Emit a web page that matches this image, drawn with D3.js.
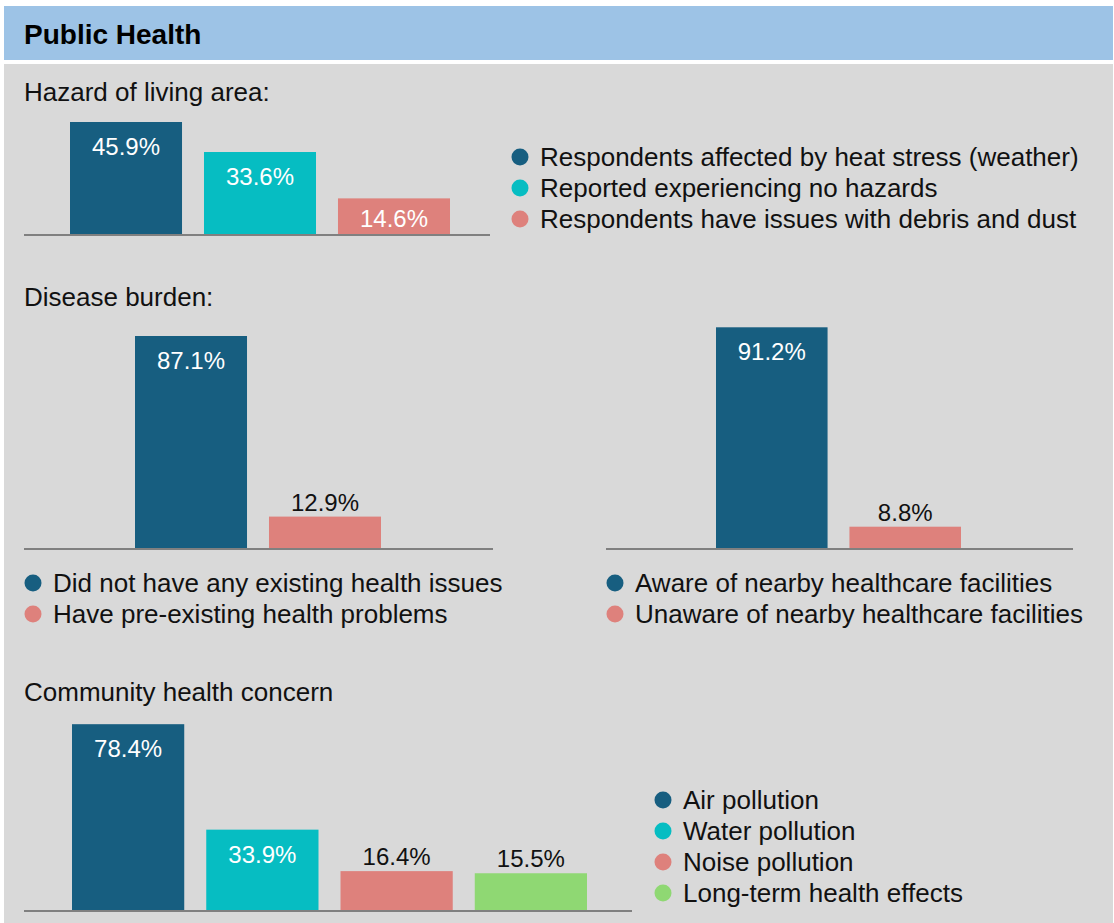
<!DOCTYPE html>
<html>
<head>
<meta charset="utf-8">
<script src="https://cdn.jsdelivr.net/npm/d3@7"></script>
<style>
  html, body { margin: 0; padding: 0; background: #fff; }
  svg { display: block; font-family: "Liberation Sans", Arial, Helvetica, sans-serif; }
</style>
</head>
<body>
<main></main>
<script>
// data
const hazardLabels = ["Respondents affected by heat stress (weather)", "Reported experiencing no hazards", "Respondents have issues with debris and dust"];
const hazardValues = [45.9, 33.6, 14.6];

const healthLabels = ["Did not have any existing health issues", "Have pre-existing health problems"];
const healthValues = [87.1, 12.9];

const facilityLabels = ["Aware of nearby healthcare facilities", "Unaware of nearby healthcare facilities"];
const facilityValues = [91.2, 8.8];

const concernLabels = ["Air pollution", "Water pollution", "Noise pollution", "Long-term health effects"];
const concernValues = [78.4, 33.9, 16.4, 15.5];

const DARK = "#175e80", TEAL = "#06bdc2", PINK = "#de817c", GREEN = "#8fd873";

const W = 1114, H = 923;
const svg = d3.select("main").append("svg")
  .attr("width", W).attr("height", H).attr("viewBox", `0 0 ${W} ${H}`);

svg.append("rect").attr("x", 4).attr("y", 6).attr("width", 1109).attr("height", 54).attr("fill", "#9dc3e6");
svg.append("rect").attr("x", 4).attr("y", 64).attr("width", 1109).attr("height", H - 64).attr("fill", "#d9d9d9");

svg.append("text").attr("x", 24).attr("y", 44)
  .style("font-size", "28px").style("font-weight", "bold").attr("fill", "#000")
  .text("Public Health");

const subtitle = (y, t) => svg.append("text").attr("x", 24).attr("y", y)
  .style("font-size", "26px").attr("fill", "#111").text(t);
subtitle(101, "Hazard of living area:");
subtitle(306, "Disease burden:");
subtitle(701, "Community health concern");

// one bar chart
function barChart(o) {
  const g = svg.append("g");
  const x = d3.scaleBand().domain(o.labels).range(o.bars).paddingInner(0.164).paddingOuter(0);
  const y = d3.scaleLinear().domain([0, 100]).range([o.base, o.base - 100 * o.k]);
  const data = o.labels.map((l, i) => ({ label: l, value: o.values[i], color: o.colors[i] }));

  g.selectAll("rect").data(data).join("rect")
    .attr("x", d => x(d.label))
    .attr("y", d => y(d.value))
    .attr("width", x.bandwidth())
    .attr("height", d => y(0) - y(d.value))
    .attr("fill", d => d.color);

  g.append("line")
    .attr("x1", o.axis[0]).attr("x2", o.axis[1])
    .attr("y1", y(0) + 1).attr("y2", y(0) + 1)
    .attr("stroke", "#808080").attr("stroke-width", 2);

  g.selectAll("text.val").data(data).join("text")
    .attr("class", "val")
    .attr("x", d => x(d.label) + x.bandwidth() / 2)
    .attr("y", d => {
      const top = y(d.value);
      return (y(0) - top) >= o.insideMin ? Math.min(top + 33, y(0) - 7) : top - 6;
    })
    .attr("text-anchor", "middle")
    .style("font-size", "24px")
    .attr("fill", d => (y(0) - y(d.value)) >= o.insideMin ? "#fff" : "#111")
    .text(d => d.value.toFixed(1) + "%");

  const lg = g.append("g");
  const rows = lg.selectAll("g").data(data).join("g")
    .attr("transform", (d, i) => `translate(${o.legend[0]},${o.legend[1] + i * 31})`);
  rows.append("circle").attr("r", 8.5).attr("fill", d => d.color);
  rows.append("text").attr("x", 20).attr("y", 9)
    .style("font-size", "26px").attr("fill", "#111")
    .text(d => d.label);
}

barChart({
  labels: hazardLabels, values: hazardValues, colors: [DARK, TEAL, PINK],
  bars: [70, 450], axis: [24, 490], base: 234, k: 2.44, insideMin: 0,
  legend: [520, 157]
});
barChart({
  labels: healthLabels, values: healthValues, colors: [DARK, PINK],
  bars: [135, 381], axis: [24, 493], base: 548, k: 2.434, insideMin: 50,
  legend: [33, 583]
});
barChart({
  labels: facilityLabels, values: facilityValues, colors: [DARK, PINK],
  bars: [716, 961], axis: [606, 1073], base: 548, k: 2.42, insideMin: 50,
  legend: [615, 583]
});
barChart({
  labels: concernLabels, values: concernValues, colors: [DARK, TEAL, PINK, GREEN],
  bars: [72, 587], axis: [24, 632], base: 910, k: 2.37, insideMin: 50,
  legend: [663, 800]
});
</script>
</body>
</html>
